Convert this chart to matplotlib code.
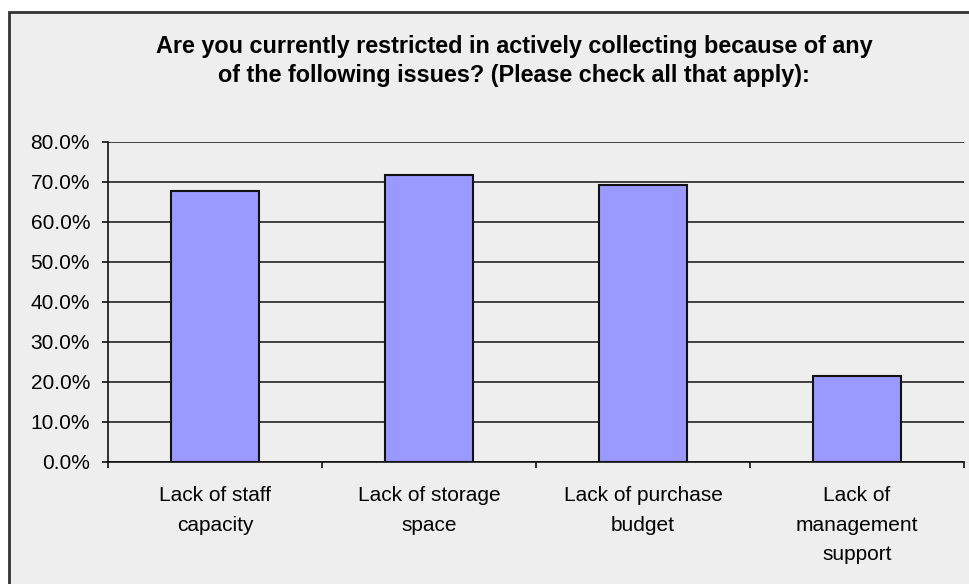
import numpy as np
import matplotlib.pyplot as plt
from matplotlib.patches import Rectangle
from matplotlib.ticker import FixedLocator, PercentFormatter

categories = ["Lack of staff\ncapacity", "Lack of storage\nspace",
              "Lack of purchase\nbudget", "Lack of\nmanagement\nsupport"]
values = [67.7, 71.7, 69.1, 21.3]
yticks = [0, 10, 20, 30, 40, 50, 60, 70, 80]
title = ("Are you currently restricted in actively collecting because of any\n"
         "of the following issues? (Please check all that apply):")

plt.rcParams['font.family'] = ['Liberation Sans', 'DejaVu Sans']

fig = plt.figure(figsize=(9.69, 5.84), dpi=100)
fig.patch.set_facecolor('white')
# grey chart area with a dark frame (cut at right/bottom like the original)
frame = Rectangle((8.5 / 969, -0.1), 1, 1.1 - 11.5 / 584, transform=fig.transFigure,
                  facecolor='#eeeeee', edgecolor='#333333', linewidth=2, zorder=-5)
fig.patches.append(frame)

ax = fig.add_axes([108 / 969, 122.5 / 584, (964 - 108) / 969, 319.8 / 584])
ax.patch.set_alpha(0)

x = np.arange(len(categories))
ax.bar(x, values, width=0.41, color='#9999ff', edgecolor='#111111', linewidth=1.5, zorder=3)

ax.set_xlim(-0.5, len(categories) - 0.5)
ax.set_ylim(0, 80)
ax.set_yticks(yticks)
ax.yaxis.set_major_formatter(PercentFormatter(decimals=1))
ax.grid(axis='y', color='#222222', linewidth=1.2, zorder=0)

ax.set_xticks(x)
ax.set_xticklabels(categories, linespacing=1.72)
ax.xaxis.set_minor_locator(FixedLocator(np.arange(len(categories) + 1) - 0.5))
ax.tick_params(axis='x', which='major', length=0, pad=17.5, labelsize=15)
ax.tick_params(axis='x', which='minor', length=4.3, width=1.2, color='#111111', direction='out')
ax.tick_params(axis='y', length=4.3, width=1.2, color='#111111', labelsize=15, pad=8.6)

for s in ['top', 'right']:
    ax.spines[s].set_visible(False)
for s in ['left', 'bottom']:
    ax.spines[s].set_color('#111111')
    ax.spines[s].set_linewidth(1.2)

fig.text(514 / 969, 1 - 61 / 584, title, ha='center', va='center',
         fontsize=16.8, fontweight='bold', linespacing=1.38)

fig.savefig('out.png', dpi=100, facecolor=fig.get_facecolor())
